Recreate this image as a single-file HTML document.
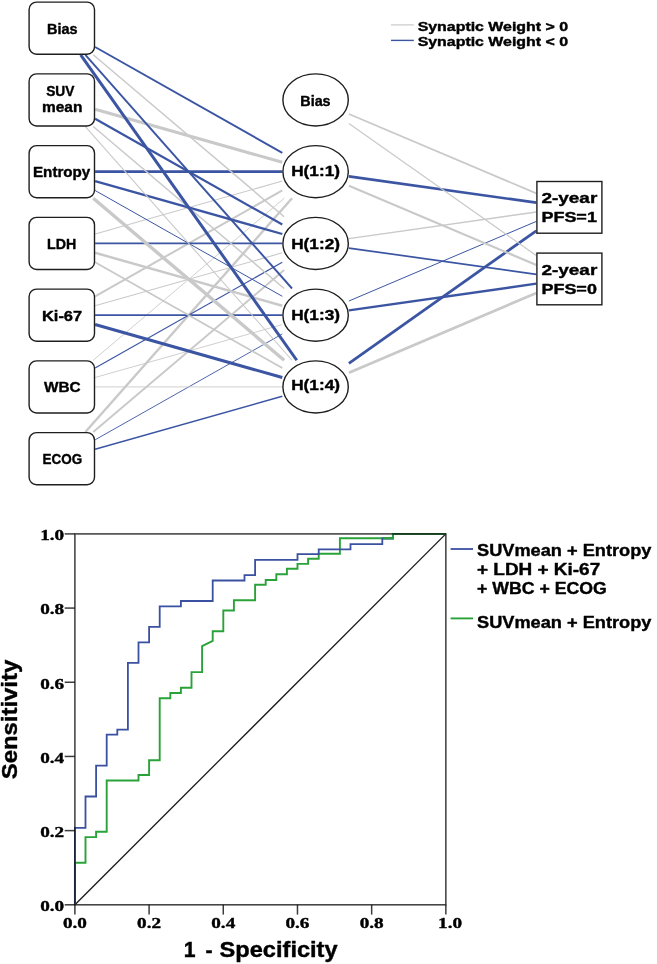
<!DOCTYPE html>
<html><head><meta charset="utf-8"><title>Figure</title>
<style>html,body{margin:0;padding:0;background:#fff;}svg{display:block;will-change:transform;}</style>
</head><body>
<svg width="657" height="964" viewBox="0 0 657 964">
<rect width="657" height="964" fill="#ffffff"/>
<g stroke-linecap="butt" fill="none">
<line x1="95.10" y1="46.98" x2="282.30" y2="152.82" stroke="#3b55a3" stroke-width="1.9"/>
<line x1="95.10" y1="109.31" x2="282.30" y2="162.24" stroke="#c9c9c9" stroke-width="3.1"/>
<line x1="95.10" y1="171.65" x2="282.30" y2="171.65" stroke="#3b55a3" stroke-width="2.9"/>
<line x1="95.10" y1="233.99" x2="282.30" y2="181.06" stroke="#c9c9c9" stroke-width="1.1"/>
<line x1="95.10" y1="296.32" x2="282.30" y2="190.48" stroke="#c9c9c9" stroke-width="2.0"/>
<line x1="93.22" y1="360.25" x2="284.18" y2="198.30" stroke="#c9c9c9" stroke-width="0.9"/>
<line x1="85.37" y1="432.00" x2="292.03" y2="198.30" stroke="#c9c9c9" stroke-width="2.4"/>
<line x1="93.22" y1="54.80" x2="284.18" y2="216.75" stroke="#c9c9c9" stroke-width="1.5"/>
<line x1="95.10" y1="118.73" x2="282.30" y2="224.57" stroke="#3b55a3" stroke-width="2.2"/>
<line x1="95.10" y1="181.06" x2="282.30" y2="233.99" stroke="#3b55a3" stroke-width="2.3"/>
<line x1="95.10" y1="243.40" x2="282.30" y2="243.40" stroke="#3b55a3" stroke-width="1.6"/>
<line x1="95.10" y1="305.74" x2="282.30" y2="252.81" stroke="#c9c9c9" stroke-width="1.1"/>
<line x1="95.10" y1="368.07" x2="282.30" y2="262.23" stroke="#3b55a3" stroke-width="1.2"/>
<line x1="93.22" y1="432.00" x2="284.18" y2="270.05" stroke="#c9c9c9" stroke-width="1.9"/>
<line x1="85.37" y1="54.80" x2="292.03" y2="288.50" stroke="#3b55a3" stroke-width="1.9"/>
<line x1="93.22" y1="126.55" x2="284.18" y2="288.50" stroke="#c9c9c9" stroke-width="1.5"/>
<line x1="95.10" y1="190.48" x2="282.30" y2="296.32" stroke="#3b55a3" stroke-width="1.0"/>
<line x1="95.10" y1="252.81" x2="282.30" y2="305.74" stroke="#c9c9c9" stroke-width="2.5"/>
<line x1="95.10" y1="315.15" x2="282.30" y2="315.15" stroke="#3b55a3" stroke-width="1.6"/>
<line x1="95.10" y1="377.49" x2="282.30" y2="324.56" stroke="#c9c9c9" stroke-width="0.9"/>
<line x1="95.10" y1="439.82" x2="282.30" y2="333.98" stroke="#3b55a3" stroke-width="0.9"/>
<line x1="80.65" y1="54.80" x2="296.75" y2="360.25" stroke="#3b55a3" stroke-width="3.0"/>
<line x1="85.37" y1="126.55" x2="292.03" y2="360.25" stroke="#c9c9c9" stroke-width="1.1"/>
<line x1="93.22" y1="198.30" x2="284.18" y2="360.25" stroke="#c9c9c9" stroke-width="3.4"/>
<line x1="95.10" y1="262.23" x2="282.30" y2="368.07" stroke="#c9c9c9" stroke-width="1.8"/>
<line x1="95.10" y1="324.56" x2="282.30" y2="377.49" stroke="#3b55a3" stroke-width="3.1"/>
<line x1="95.10" y1="386.90" x2="282.30" y2="386.90" stroke="#c9c9c9" stroke-width="0.9"/>
<line x1="95.10" y1="449.24" x2="282.30" y2="396.31" stroke="#3b55a3" stroke-width="1.5"/>
<line x1="348.90" y1="114.00" x2="536.30" y2="193.34" stroke="#c9c9c9" stroke-width="1.8"/>
<line x1="348.90" y1="176.33" x2="536.30" y2="202.69" stroke="#3b55a3" stroke-width="2.7"/>
<line x1="348.90" y1="238.67" x2="536.30" y2="212.05" stroke="#c9c9c9" stroke-width="1.4"/>
<line x1="348.90" y1="301.01" x2="536.30" y2="221.41" stroke="#3b55a3" stroke-width="1.0"/>
<line x1="348.90" y1="363.34" x2="536.30" y2="230.77" stroke="#3b55a3" stroke-width="2.8"/>
<line x1="348.90" y1="123.39" x2="536.30" y2="255.60" stroke="#c9c9c9" stroke-width="1.2"/>
<line x1="348.90" y1="185.73" x2="536.30" y2="264.96" stroke="#c9c9c9" stroke-width="2.2"/>
<line x1="348.90" y1="248.06" x2="536.30" y2="274.31" stroke="#3b55a3" stroke-width="1.7"/>
<line x1="348.90" y1="310.40" x2="536.30" y2="283.67" stroke="#3b55a3" stroke-width="2.4"/>
<line x1="348.90" y1="372.74" x2="536.30" y2="293.03" stroke="#c9c9c9" stroke-width="2.8"/>
</g>
<g fill="#ffffff" stroke="#1e1e1e" stroke-width="1.4">
<rect x="29.10" y="2.10" width="65.40" height="52.10" rx="7.5" ry="7.5"/>
<rect x="29.10" y="73.85" width="65.40" height="52.10" rx="7.5" ry="7.5"/>
<rect x="29.10" y="145.60" width="65.40" height="52.10" rx="7.5" ry="7.5"/>
<rect x="29.10" y="217.35" width="65.40" height="52.10" rx="7.5" ry="7.5"/>
<rect x="29.10" y="289.10" width="65.40" height="52.10" rx="7.5" ry="7.5"/>
<rect x="29.10" y="360.85" width="65.40" height="52.10" rx="7.5" ry="7.5"/>
<rect x="29.10" y="432.60" width="65.40" height="52.10" rx="7.5" ry="7.5"/>
<ellipse cx="315.60" cy="99.90" rx="32.7" ry="26.05"/>
<ellipse cx="315.60" cy="171.65" rx="32.7" ry="26.05"/>
<ellipse cx="315.60" cy="243.40" rx="32.7" ry="26.05"/>
<ellipse cx="315.60" cy="315.15" rx="32.7" ry="26.05"/>
<ellipse cx="315.60" cy="386.90" rx="32.7" ry="26.05"/>
<rect x="536.90" y="181.50" width="65.00" height="51.70"/>
<rect x="536.90" y="253.10" width="65.00" height="51.70"/>
</g>
<text x="47.00" y="34.15" font-size="14.8" font-family="Liberation Sans, sans-serif" font-weight="bold" textLength="30.50" lengthAdjust="spacingAndGlyphs" fill="#000" stroke="#000" stroke-width="0.4" stroke-linejoin="round" >Bias</text>
<text x="46.20" y="95.80" font-size="14.8" font-family="Liberation Sans, sans-serif" font-weight="bold" textLength="28.30" lengthAdjust="spacingAndGlyphs" fill="#000" stroke="#000" stroke-width="0.4" stroke-linejoin="round" >SUV</text>
<text x="42.00" y="111.80" font-size="14.8" font-family="Liberation Sans, sans-serif" font-weight="bold" textLength="40.40" lengthAdjust="spacingAndGlyphs" fill="#000" stroke="#000" stroke-width="0.4" stroke-linejoin="round" >mean</text>
<text x="33.00" y="176.65" font-size="14.8" font-family="Liberation Sans, sans-serif" font-weight="bold" textLength="57.30" lengthAdjust="spacingAndGlyphs" fill="#000" stroke="#000" stroke-width="0.4" stroke-linejoin="round" >Entropy</text>
<text x="47.10" y="248.80" font-size="14.8" font-family="Liberation Sans, sans-serif" font-weight="bold" textLength="29.20" lengthAdjust="spacingAndGlyphs" fill="#000" stroke="#000" stroke-width="0.4" stroke-linejoin="round" >LDH</text>
<text x="42.00" y="320.65" font-size="14.8" font-family="Liberation Sans, sans-serif" font-weight="bold" textLength="40.10" lengthAdjust="spacingAndGlyphs" fill="#000" stroke="#000" stroke-width="0.4" stroke-linejoin="round" >Ki-67</text>
<text x="44.00" y="391.90" font-size="14.8" font-family="Liberation Sans, sans-serif" font-weight="bold" textLength="36.60" lengthAdjust="spacingAndGlyphs" fill="#000" stroke="#000" stroke-width="0.4" stroke-linejoin="round" >WBC</text>
<text x="42.50" y="463.55" font-size="14.8" font-family="Liberation Sans, sans-serif" font-weight="bold" textLength="39.60" lengthAdjust="spacingAndGlyphs" fill="#000" stroke="#000" stroke-width="0.4" stroke-linejoin="round" >ECOG</text>
<text x="300.30" y="105.90" font-size="14.8" font-family="Liberation Sans, sans-serif" font-weight="bold" textLength="30.30" lengthAdjust="spacingAndGlyphs" fill="#000" stroke="#000" stroke-width="0.4" stroke-linejoin="round" >Bias</text>
<text x="291.20" y="175.75" font-size="14.8" font-family="Liberation Sans, sans-serif" font-weight="bold" textLength="48.80" lengthAdjust="spacingAndGlyphs" fill="#000" stroke="#000" stroke-width="0.4" stroke-linejoin="round" >H(1:1)</text>
<text x="291.20" y="249.00" font-size="14.8" font-family="Liberation Sans, sans-serif" font-weight="bold" textLength="48.80" lengthAdjust="spacingAndGlyphs" fill="#000" stroke="#000" stroke-width="0.4" stroke-linejoin="round" >H(1:2)</text>
<text x="291.20" y="320.15" font-size="14.8" font-family="Liberation Sans, sans-serif" font-weight="bold" textLength="48.80" lengthAdjust="spacingAndGlyphs" fill="#000" stroke="#000" stroke-width="0.4" stroke-linejoin="round" >H(1:3)</text>
<text x="291.20" y="390.00" font-size="14.8" font-family="Liberation Sans, sans-serif" font-weight="bold" textLength="48.80" lengthAdjust="spacingAndGlyphs" fill="#000" stroke="#000" stroke-width="0.4" stroke-linejoin="round" >H(1:4)</text>
<text x="541.40" y="203.25" font-size="15.4" font-family="Liberation Sans, sans-serif" font-weight="bold" textLength="55.90" lengthAdjust="spacingAndGlyphs" fill="#000" stroke="#000" stroke-width="0.4" stroke-linejoin="round" >2-year</text>
<text x="541.40" y="222.25" font-size="15.4" font-family="Liberation Sans, sans-serif" font-weight="bold" textLength="55.50" lengthAdjust="spacingAndGlyphs" fill="#000" stroke="#000" stroke-width="0.4" stroke-linejoin="round" >PFS=1</text>
<text x="541.40" y="274.85" font-size="15.4" font-family="Liberation Sans, sans-serif" font-weight="bold" textLength="55.90" lengthAdjust="spacingAndGlyphs" fill="#000" stroke="#000" stroke-width="0.4" stroke-linejoin="round" >2-year</text>
<text x="541.40" y="293.85" font-size="15.4" font-family="Liberation Sans, sans-serif" font-weight="bold" textLength="55.50" lengthAdjust="spacingAndGlyphs" fill="#000" stroke="#000" stroke-width="0.4" stroke-linejoin="round" >PFS=0</text>
<line x1="391" y1="24.9" x2="413.8" y2="24.9" stroke="#c9c9c9" stroke-width="1.2"/>
<line x1="391" y1="40.4" x2="413.8" y2="40.4" stroke="#3b55a3" stroke-width="1.4"/>
<text x="417.70" y="30.70" font-size="12.8" font-family="Liberation Sans, sans-serif" font-weight="bold" textLength="150.30" lengthAdjust="spacingAndGlyphs" fill="#000" stroke="#000" stroke-width="0.4" stroke-linejoin="round" >Synaptic Weight &gt; 0</text>
<text x="417.70" y="45.60" font-size="12.8" font-family="Liberation Sans, sans-serif" font-weight="bold" textLength="150.30" lengthAdjust="spacingAndGlyphs" fill="#000" stroke="#000" stroke-width="0.4" stroke-linejoin="round" >Synaptic Weight &lt; 0</text>
<line x1="74.9" y1="904.8" x2="445.85" y2="533.9" stroke="#1a1a1a" stroke-width="1.3"/>
<text x="62.90" y="928.20" font-size="15.3" font-family="Liberation Serif, serif" font-weight="bold" textLength="24.00" lengthAdjust="spacingAndGlyphs" fill="#000" stroke="#000" stroke-width="0.4" stroke-linejoin="round" >0.0</text>
<text x="40.20" y="911.20" font-size="15.3" font-family="Liberation Serif, serif" font-weight="bold" textLength="24.00" lengthAdjust="spacingAndGlyphs" fill="#000" stroke="#000" stroke-width="0.4" stroke-linejoin="round" >0.0</text>
<text x="137.09" y="928.20" font-size="15.3" font-family="Liberation Serif, serif" font-weight="bold" textLength="24.00" lengthAdjust="spacingAndGlyphs" fill="#000" stroke="#000" stroke-width="0.4" stroke-linejoin="round" >0.2</text>
<text x="40.20" y="837.02" font-size="15.3" font-family="Liberation Serif, serif" font-weight="bold" textLength="24.00" lengthAdjust="spacingAndGlyphs" fill="#000" stroke="#000" stroke-width="0.4" stroke-linejoin="round" >0.2</text>
<text x="211.28" y="928.20" font-size="15.3" font-family="Liberation Serif, serif" font-weight="bold" textLength="24.00" lengthAdjust="spacingAndGlyphs" fill="#000" stroke="#000" stroke-width="0.4" stroke-linejoin="round" >0.4</text>
<text x="40.20" y="762.84" font-size="15.3" font-family="Liberation Serif, serif" font-weight="bold" textLength="24.00" lengthAdjust="spacingAndGlyphs" fill="#000" stroke="#000" stroke-width="0.4" stroke-linejoin="round" >0.4</text>
<text x="285.47" y="928.20" font-size="15.3" font-family="Liberation Serif, serif" font-weight="bold" textLength="24.00" lengthAdjust="spacingAndGlyphs" fill="#000" stroke="#000" stroke-width="0.4" stroke-linejoin="round" >0.6</text>
<text x="40.20" y="688.66" font-size="15.3" font-family="Liberation Serif, serif" font-weight="bold" textLength="24.00" lengthAdjust="spacingAndGlyphs" fill="#000" stroke="#000" stroke-width="0.4" stroke-linejoin="round" >0.6</text>
<text x="359.66" y="928.20" font-size="15.3" font-family="Liberation Serif, serif" font-weight="bold" textLength="24.00" lengthAdjust="spacingAndGlyphs" fill="#000" stroke="#000" stroke-width="0.4" stroke-linejoin="round" >0.8</text>
<text x="40.20" y="614.48" font-size="15.3" font-family="Liberation Serif, serif" font-weight="bold" textLength="24.00" lengthAdjust="spacingAndGlyphs" fill="#000" stroke="#000" stroke-width="0.4" stroke-linejoin="round" >0.8</text>
<text x="438.05" y="928.20" font-size="15.3" font-family="Liberation Serif, serif" font-weight="bold" textLength="24.00" lengthAdjust="spacingAndGlyphs" fill="#000" stroke="#000" stroke-width="0.4" stroke-linejoin="round" >1.0</text>
<text x="40.20" y="540.30" font-size="15.3" font-family="Liberation Serif, serif" font-weight="bold" textLength="24.00" lengthAdjust="spacingAndGlyphs" fill="#000" stroke="#000" stroke-width="0.4" stroke-linejoin="round" >1.0</text>
<path d="M74.9,904.8 L74.9,862.8 L85.5,862.8 L85.5,837.1 L96.1,837.1 L96.1,831.8 L106.7,831.8 L106.7,780.5 L138.5,780.5 L138.5,775.0 L149.1,775.0 L149.1,760.3 L159.7,760.3 L159.7,698.2 L170.3,698.2 L170.3,693.0 L180.9,693.0 L180.9,687.8 L191.5,687.8 L191.5,672.1 L202.1,672.1 L202.1,646.1 L212.7,640.8 L212.7,631.2 L223.3,631.2 L223.3,610.5 L233.9,610.5 L233.9,600.3 L255.1,600.3 L255.1,584.8 L265.7,584.8 L265.7,580.0 L276.3,580.0 L276.3,574.3 L286.9,574.3 L286.9,568.8 L297.5,568.8 L297.5,563.9 L308.1,563.9 L308.1,558.8 L318.7,558.8 L318.7,553.7 L339.9,553.7 L339.9,538.2 L392.9,538.2 L392.9,533.9 L445.9,533.9" fill="none" stroke="#2aa23a" stroke-width="1.9" stroke-linejoin="miter"/>
<path d="M74.9,904.8 L74.9,827.9 L85.5,827.9 L85.5,796.5 L96.1,796.5 L96.1,765.6 L106.7,765.6 L106.7,734.7 L117.3,734.7 L117.3,729.6 L127.9,729.6 L127.9,662.9 L138.5,662.9 L138.5,642.3 L149.1,642.3 L149.1,626.9 L159.7,626.9 L159.7,606.3 L180.9,606.3 L180.9,601.0 L212.7,601.0 L212.7,580.5 L244.5,580.5 L244.5,575.2 L255.1,575.2 L255.1,559.8 L297.5,559.8 L297.5,554.2 L318.7,554.2 L318.7,549.3 L350.5,549.3 L350.5,544.2 L382.3,544.2 L382.3,538.5 L392.9,538.5 L392.9,533.9 L445.9,533.9" fill="none" stroke="#3a50a0" stroke-width="1.8" stroke-linejoin="miter"/>
<path d="M383.5,538.2 L392.9,538.2 L392.9,533.9 L445.9,533.9" fill="none" stroke="#2aa23a" stroke-width="1.9" stroke-linejoin="miter"/>
<g stroke="#111111" stroke-opacity="0.82" stroke-width="1.5" fill="none">
<rect x="74.9" y="533.9" width="370.95000000000005" height="370.9"/>
<line x1="74.90" y1="904.8" x2="74.90" y2="914.5999999999999"/>
<line x1="64.7" y1="904.80" x2="74.9" y2="904.80"/>
<line x1="149.09" y1="904.8" x2="149.09" y2="914.5999999999999"/>
<line x1="64.7" y1="830.62" x2="74.9" y2="830.62"/>
<line x1="223.28" y1="904.8" x2="223.28" y2="914.5999999999999"/>
<line x1="64.7" y1="756.44" x2="74.9" y2="756.44"/>
<line x1="297.47" y1="904.8" x2="297.47" y2="914.5999999999999"/>
<line x1="64.7" y1="682.26" x2="74.9" y2="682.26"/>
<line x1="371.66" y1="904.8" x2="371.66" y2="914.5999999999999"/>
<line x1="64.7" y1="608.08" x2="74.9" y2="608.08"/>
<line x1="445.85" y1="904.8" x2="445.85" y2="914.5999999999999"/>
<line x1="64.7" y1="533.90" x2="74.9" y2="533.90"/>
</g>
<line x1="450.6" y1="549" x2="473" y2="549" stroke="#3a50a0" stroke-width="1.8"/>
<line x1="450.6" y1="618.4" x2="473" y2="618.4" stroke="#2aa23a" stroke-width="1.9"/>
<text x="477.00" y="555.90" font-size="16.7" font-family="Liberation Sans, sans-serif" font-weight="bold" textLength="174.40" lengthAdjust="spacingAndGlyphs" fill="#000" stroke="#000" stroke-width="0.4" stroke-linejoin="round" >SUVmean + Entropy</text>
<text x="477.00" y="574.50" font-size="16.7" font-family="Liberation Sans, sans-serif" font-weight="bold" textLength="123.20" lengthAdjust="spacingAndGlyphs" fill="#000" stroke="#000" stroke-width="0.4" stroke-linejoin="round" >+ LDH + Ki-67</text>
<text x="477.00" y="593.80" font-size="16.7" font-family="Liberation Sans, sans-serif" font-weight="bold" textLength="129.80" lengthAdjust="spacingAndGlyphs" fill="#000" stroke="#000" stroke-width="0.4" stroke-linejoin="round" >+ WBC + ECOG</text>
<text x="477.00" y="627.90" font-size="16.7" font-family="Liberation Sans, sans-serif" font-weight="bold" textLength="174.40" lengthAdjust="spacingAndGlyphs" fill="#000" stroke="#000" stroke-width="0.4" stroke-linejoin="round" >SUVmean + Entropy</text>
<text x="183.7" y="957.2" font-size="21.2" font-family="Liberation Sans, sans-serif" font-weight="bold" fill="#000" stroke="#000" stroke-width="0.4">1</text>
<text x="205.6" y="957.2" font-size="21.2" font-family="Liberation Sans, sans-serif" font-weight="bold" fill="#000" stroke="#000" stroke-width="0.4">-</text>
<text x="219.60" y="957.20" font-size="21.2" font-family="Liberation Sans, sans-serif" font-weight="bold" textLength="118.00" lengthAdjust="spacingAndGlyphs" fill="#000" stroke="#000" stroke-width="0.4" stroke-linejoin="round" >Specificity</text>
<g transform="translate(17.2,779.3) rotate(-90)">
<text x="0.00" y="0.00" font-size="21.2" font-family="Liberation Sans, sans-serif" font-weight="bold" textLength="119.50" lengthAdjust="spacingAndGlyphs" fill="#000" stroke="#000" stroke-width="0.4" stroke-linejoin="round" >Sensitivity</text>
</g>
</svg>
</body></html>
